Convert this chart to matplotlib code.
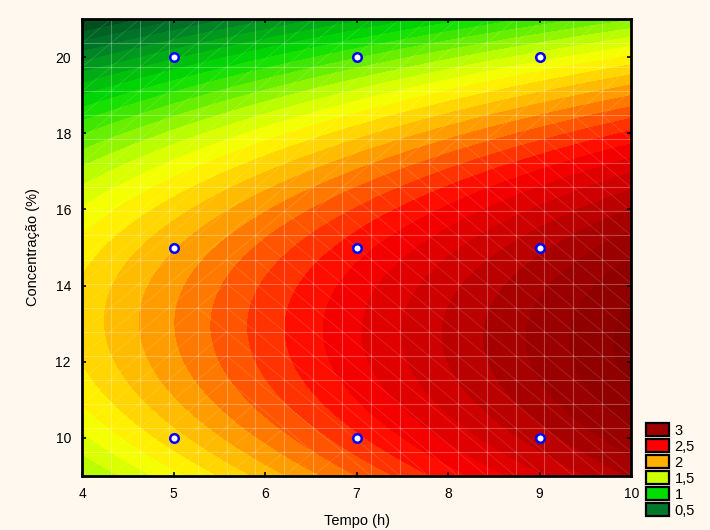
import numpy as np
import matplotlib.pyplot as plt
from matplotlib.colors import LinearSegmentedColormap
from matplotlib.patches import Patch

plt.rcParams['font.family'] = ['Liberation Sans', 'DejaVu Sans']

# design points (Tempo x Concentração) and the response
tempo = [5, 5, 5, 7, 7, 7, 9, 9, 9]
conc = [10, 15, 20, 10, 15, 20, 10, 15, 20]
resposta = [1.92, 1.82, 0.88, 2.38, 2.52, 1.12, 2.78, 2.98, 1.52]

legend_labels = ["3", "2,5", "2", "1,5", "1", "0,5"]
legend_colors = ["#a00000", "#ff0000", "#ffb000", "#ccff00", "#00dd00", "#007a2a"]

BG = "#fff8ee"

# quadratic response surface fitted to the design points
t = np.array(tempo, float)
c = np.array(conc, float)
X = np.column_stack([np.ones_like(t), t, c, t**2, c**2, t * c])
coef, *_ = np.linalg.lstsq(X, np.array(resposta), rcond=None)


def surface(tt, cc):
    return (coef[0] + coef[1] * tt + coef[2] * cc + coef[3] * tt**2
            + coef[4] * cc**2 + coef[5] * tt * cc)


tg, cg = np.meshgrid(np.linspace(4, 10, 300), np.linspace(9, 21, 300))
Z = surface(tg, cg)

anchors = [(0.2, "#004a1c"), (0.5, "#007a2a"), (1.0, "#00dd00"),
           (1.5, "#ccff00"), (1.7, "#ffff00"), (2.0, "#ffb000"),
           (2.5, "#ff0000"), (3.0, "#a00000"), (3.4, "#780000")]
lo, hi = anchors[0][0], anchors[-1][0]
cmap = LinearSegmentedColormap.from_list(
    "stat", [((v - lo) / (hi - lo), col) for v, col in anchors])

fig = plt.figure(figsize=(7.1, 5.3), dpi=100, facecolor=BG)
ax = fig.add_axes([0.1155, 0.102, 0.7735, 0.862])

levels = np.arange(0.0, 3.6, 0.1)
ax.contourf(tg, cg, Z, levels=levels, cmap=cmap, vmin=lo, vmax=hi)

# mesh lines of the surface (grid + triangle diagonals)
mx = np.linspace(4, 10, 20)
my = np.linspace(9, 21, 20)
for xv in mx:
    ax.axvline(xv, color="white", alpha=0.28, lw=0.8)
for yv in my:
    ax.axhline(yv, color="white", alpha=0.28, lw=0.8)
for i in range(len(mx) - 1):
    for j in range(len(my) - 1):
        zc = surface((mx[i] + mx[i + 1]) / 2, (my[j] + my[j + 1]) / 2)
        if zc < 2.2:
            xs, ys = [mx[i], mx[i + 1]], [my[j], my[j + 1]]
        else:
            xs, ys = [mx[i], mx[i + 1]], [my[j + 1], my[j]]
        ax.plot(xs, ys, color="white", alpha=0.13, lw=0.7)

ax.scatter(tempo, conc, s=38, facecolor="white", edgecolor="#0000ff",
           linewidth=1.8, zorder=5)

ax.set_xlim(4, 10)
ax.set_ylim(9, 21)
ax.set_xticks(range(4, 11))
ax.set_yticks(range(10, 21, 2))
ax.tick_params(direction="in", length=3, width=1.2, top=True, right=True,
               labelsize=10, pad=8)
for s in ax.spines.values():
    s.set_linewidth(2)
ax.set_xlabel("Tempo (h)", fontsize=10.5, labelpad=9)
ax.set_ylabel("Concentração (%)", fontsize=10.5, labelpad=11)

handles = [Patch(facecolor=col, edgecolor="black", linewidth=1.6)
           for col in legend_colors]
fig.legend(handles, legend_labels, loc="lower left",
           bbox_to_anchor=(0.901, 0.012), frameon=False, fontsize=10.5,
           handlelength=1.6, handleheight=1.0, labelspacing=0.1,
           handletextpad=0.4, borderaxespad=0)

fig.savefig("out.png", dpi=100, facecolor=BG)
